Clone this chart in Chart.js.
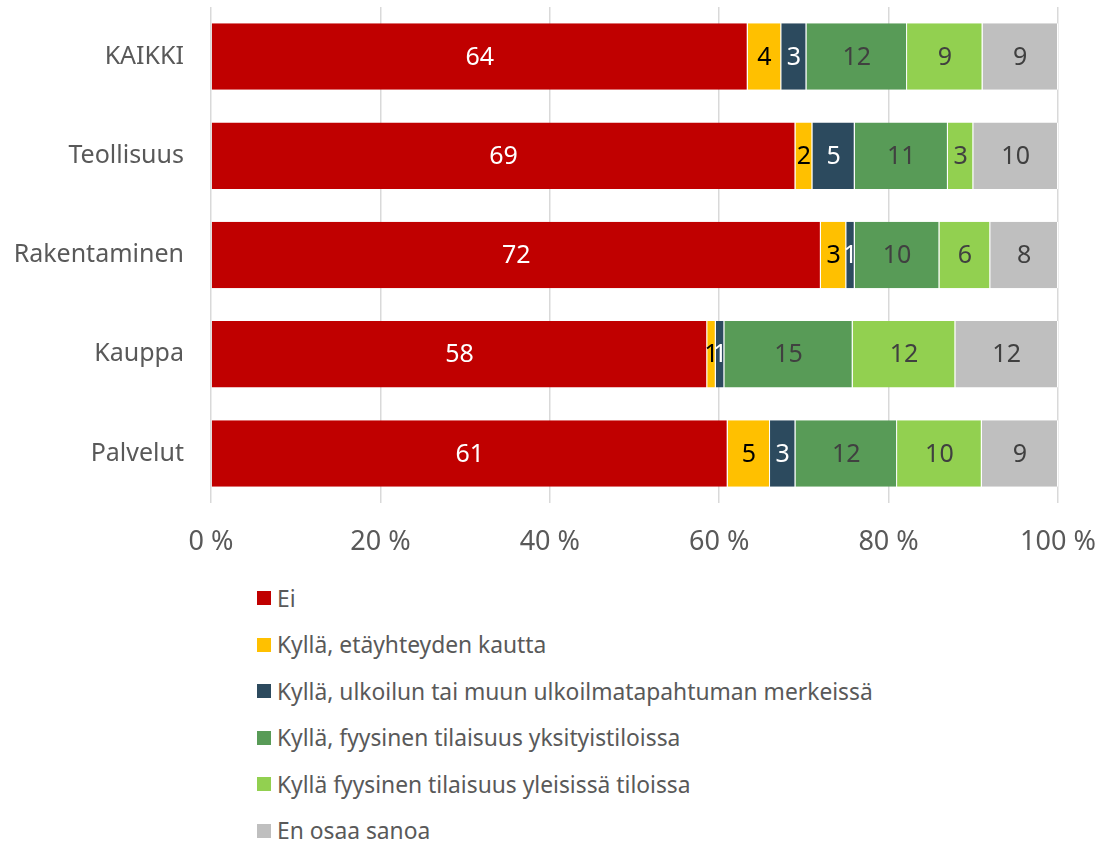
<!DOCTYPE html>
<html>
<head>
<meta charset="utf-8">
<script src="https://cdn.jsdelivr.net/npm/chart.js@4"></script>
<style>
    body { margin: 0; background: #fff; font-family: "Noto Sans", sans-serif; }
    #wrap { position: relative; width: 1101px; height: 843px; overflow: hidden; }
    #box { position: absolute; left: 0; top: 0; width: 1101px; height: 563px; }
    #legend { position: absolute; left: 257px; top: 575px; margin: 0; padding: 0; list-style: none; }
    #legend li { height: 46.5px; display: flex; align-items: center; font-size: 22.8px; color: #595959; }
    #legend span.sw { width: 14px; height: 14px; margin-right: 6px; display: inline-block; }
</style>
</head>
<body>
<div id="wrap">
    <div id="box"><canvas id="chart"></canvas></div>
    <ul id="legend"></ul>
</div>
<script>
var categories = ["KAIKKI", "Teollisuus", "Rakentaminen", "Kauppa", "Palvelut"];
var seriesNames = [
    "Ei",
    "Kyllä, etäyhteyden kautta",
    "Kyllä, ulkoilun tai muun ulkoilmatapahtuman merkeissä",
    "Kyllä, fyysinen tilaisuus yksityistiloissa",
    "Kyllä fyysinen tilaisuus yleisissä tiloissa",
    "En osaa sanoa"
];
var ei = [64, 69, 72, 58, 61];
var etayhteys = [4, 2, 3, 1, 5];
var ulkoilu = [3, 5, 1, 1, 3];
var yksityistilat = [12, 11, 10, 15, 12];
var yleisetTilat = [9, 3, 6, 12, 10];
var enOsaa = [9, 10, 8, 12, 9];
var xTicks = [0, 20, 40, 60, 80, 100];

var seriesValues = [ei, etayhteys, ulkoilu, yksityistilat, yleisetTilat, enOsaa];
var colors = ["#C00000", "#FFC000", "#2C4A5E", "#589B57", "#92D050", "#BFBFBF"];
var labelColors = ["#ffffff", "#000000", "#ffffff", "#404040", "#404040", "#404040"];

// rows are shown as 100 % stacked, so scale each row by its total
var totals = categories.map(function (c, j) {
    return seriesValues.reduce(function (s, arr) { return s + arr[j]; }, 0);
});

var datasets = seriesValues.map(function (arr, i) {
    return {
        label: seriesNames[i],
        data: arr.map(function (v, j) { return v / totals[j] * 100; }),
        backgroundColor: colors[i],
        borderColor: "#ffffff",
        borderWidth: { right: 1 },
        borderSkipped: false,
        barPercentage: 0.67,
        categoryPercentage: 1
    };
});

var valueLabels = {
    id: 'valueLabels',
    afterDatasetsDraw: function (chart) {
        var ctx = chart.ctx;
        ctx.save();
        ctx.font = '25px "Noto Sans"';
        ctx.textAlign = 'center';
        ctx.textBaseline = 'middle';
        chart.data.datasets.forEach(function (ds, i) {
            chart.getDatasetMeta(i).data.forEach(function (bar, j) {
                var p = bar.getProps(['x', 'y', 'base'], true);
                ctx.fillStyle = labelColors[i];
                ctx.fillText(seriesValues[i][j], (p.x + p.base) / 2, p.y + 1);
            });
        });
        ctx.restore();
    }
};

var chart = new Chart(document.getElementById('chart'), {
    type: 'bar',
    data: { labels: categories, datasets: datasets },
    options: {
        indexAxis: 'y',
        responsive: true,
        maintainAspectRatio: false,
        animation: false,
        layout: { padding: { top: 7, right: 43, bottom: 0, left: 0 } },
        plugins: { legend: { display: false }, tooltip: { enabled: false } },
        scales: {
            x: {
                stacked: true,
                min: 0,
                max: 100,
                afterBuildTicks: function (scale) {
                    scale.ticks = xTicks.map(function (v) { return { value: v }; });
                },
                afterFit: function (scale) {
                    scale.height = 60;
                    scale.paddingLeft = 0;
                    scale.paddingRight = 0;
                },
                ticks: {
                    callback: function (v) { return v + ' %'; },
                    color: '#595959',
                    font: { family: 'Noto Sans', size: 27 },
                    padding: 23,
                    maxRotation: 0
                },
                grid: { color: '#d9d9d9', lineWidth: 1.5, drawTicks: false },
                border: { display: false }
            },
            y: {
                stacked: true,
                afterFit: function (scale) {
                    scale.width = 211;
                    scale.paddingTop = 0;
                    scale.paddingBottom = 0;
                },
                ticks: {
                    color: '#595959',
                    font: { family: 'Noto Sans', size: 25 },
                    padding: 19
                },
                grid: { display: false },
                border: { display: false }
            }
        }
    },
    plugins: [valueLabels]
});

var legend = document.getElementById('legend');
seriesNames.forEach(function (name, i) {
    var li = document.createElement('li');
    var sw = document.createElement('span');
    sw.className = 'sw';
    sw.style.background = colors[i];
    li.appendChild(sw);
    li.appendChild(document.createTextNode(name));
    legend.appendChild(li);
});
</script>
</body>
</html>
